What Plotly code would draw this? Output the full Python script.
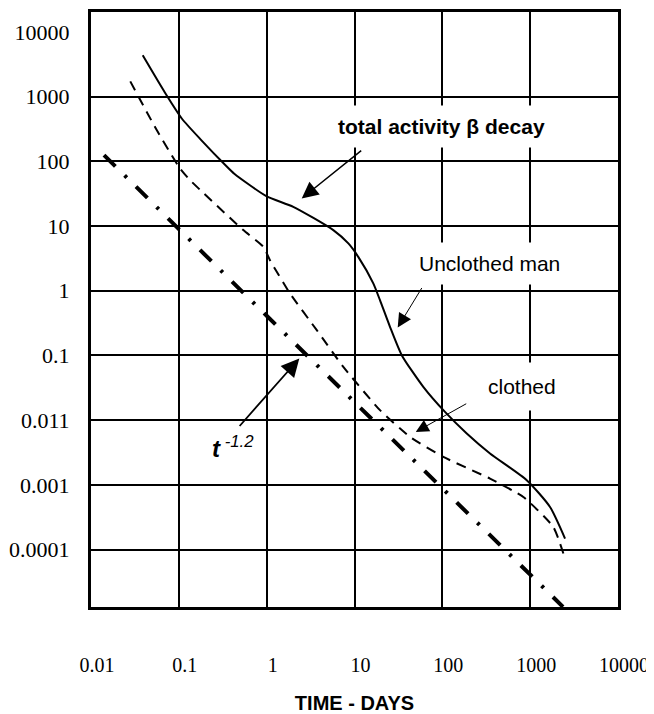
import plotly.graph_objects as go

# ---- data (log-log) ----
total_t = [0.0388, 0.0696, 0.1086, 0.1788, 0.3355, 0.428, 0.991, 2.01, 5.74, 8.51, 11.04,
           16.37, 19.5, 25.35, 34.5, 60.7, 107.2, 189.7, 349, 914, 1683, 2495]
total_v = [4345, 1148, 455, 215, 88.5, 64.3, 29.0, 19.8, 8.65, 5.38, 3.34,
           1.30, 0.716, 0.277, 0.101, 0.0327, 0.0134, 0.00621, 0.00305, 0.00118, 0.000455, 0.000148]

clothed_t = [0.028, 0.056, 0.103, 0.134, 0.542, 0.916, 1.09, 1.844, 3.72, 7.46, 19.5,
             42.9, 102.6, 349, 836, 1837, 2495]
clothed_v = [1722, 304, 77.8, 51.3, 8.65, 4.78, 2.97, 0.908, 0.246, 0.0665, 0.01426,
             0.00551, 0.0027, 0.00125, 0.00065, 0.000223, 0.0000724]

power_t = [0.01406, 1.0, 2366]
power_v = [125, 0.41, 0.000013]

x_tickvals = [0.01, 0.1, 1, 10, 100, 1000, 10000]
x_ticktext = ["0.01", "0.1", "1", "10", "100", "1000", "10000"]
y_tickvals = [10000, 1000, 100, 10, 1, 0.1, 0.01, 0.001, 0.0001]
y_ticktext = ["10000", "1000", "100", "10", "1", "0.1", "0.011", "0.001", "0.0001"]
grid_yvals = [1000, 100, 10, 1, 0.1, 0.01, 0.001, 0.0001]

Y_RANGE = [-4.888, 4.308]
serif = "Liberation Serif"
sans = "Liberation Sans"

fig = go.Figure()
fig.add_trace(go.Scatter(x=total_t, y=total_v, mode="lines",
                         line=dict(color="black", width=2, shape="spline", smoothing=0.6),
                         name="total activity"))
fig.add_trace(go.Scatter(x=clothed_t, y=clothed_v, mode="lines",
                         line=dict(color="black", width=2, dash="10px,7px", shape="spline", smoothing=0.5),
                         name="clothed"))
fig.add_trace(go.Scatter(x=power_t, y=power_v, mode="lines", yaxis="y2",
                         line=dict(color="black", width=4, dash="16px,13px,3px,13px"),
                         name="t^-1.2"))

# the page body has an 8px margin, so the figure is sized/offset to compensate
fig.update_layout(
    width=646, height=706, autosize=False,
    margin=dict(l=83, r=36, t=4, b=107, autoexpand=False),
    paper_bgcolor="white", plot_bgcolor="white",
    showlegend=False,
    xaxis=dict(type="log", range=[-2, 4], tickmode="array", tickvals=x_tickvals, ticktext=x_ticktext,
               automargin=False,
               showgrid=True, gridcolor="black", gridwidth=2, zeroline=False,
               showline=True, linecolor="black", linewidth=3, mirror=True,
               ticks="", ticklabelstandoff=38, ticklabelshift=6,
               tickfont=dict(family=serif, size=20, color="black"),
               title=dict(text="<b>TIME - DAYS</b>", font=dict(family=sans, size=20, color="black"),
                          standoff=25)),
    yaxis=dict(type="log", range=Y_RANGE, tickmode="array", tickvals=y_tickvals, ticktext=y_ticktext,
               automargin=False,
               showgrid=False, zeroline=False,
               showline=True, linecolor="black", linewidth=3, mirror=True,
               ticks="", ticklabelstandoff=14,
               tickfont=dict(family=serif, size=22, color="black")),
    yaxis2=dict(type="log", range=Y_RANGE, overlaying="y", side="left", automargin=False,
                tickmode="array", tickvals=grid_yvals, showticklabels=False,
                showgrid=True, gridcolor="black", gridwidth=2, zeroline=False,
                showline=False, ticks=""),
)

# text labels with white boxes
fig.add_annotation(x=1.985, y=2.537, xref="x", yref="y", text="<b>total activity β decay</b>",
                   showarrow=False, bgcolor="white", borderpad=9,
                   font=dict(family=sans, size=21, color="black"))
fig.add_annotation(x=2.5316, y=0.427, xref="x", yref="y", text="Unclothed man",
                   showarrow=False, bgcolor="white", borderpad=9,
                   font=dict(family=sans, size=21, color="black"))
fig.add_annotation(x=2.904, y=-1.475, xref="x", yref="y", text="clothed",
                   showarrow=False, bgcolor="white", borderpad=12,
                   font=dict(family=sans, size=21, color="black"))
fig.add_annotation(x=-0.3855, y=-2.411, xref="x", yref="y",
                   text="<b><i>t</i></b><sup><i> -1.2</i></sup>",
                   showarrow=False, font=dict(family=sans, size=24, color="black"))

# arrows
fig.add_annotation(x=0.399, y=1.427, xref="x", yref="y", text="", showarrow=True,
                   ax=61, ay=-49, arrowhead=2, arrowsize=2.2, arrowwidth=1.5, arrowcolor="black")
fig.add_annotation(x=1.492, y=-0.568, xref="x", yref="y", text="", showarrow=True,
                   ax=25, ay=-41, arrowhead=2, arrowsize=2.8, arrowwidth=1, arrowcolor="black")
fig.add_annotation(x=1.697, y=-2.182, xref="x", yref="y", text="", showarrow=True,
                   ax=52, ay=-29, arrowhead=2, arrowsize=2.6, arrowwidth=1, arrowcolor="black")
fig.add_annotation(x=0.3716, y=-1.047, xref="x", yref="y", text="", showarrow=True,
                   ax=-61, ay=69, arrowhead=2, arrowsize=2.0, arrowwidth=1.8, arrowcolor="black")

fig.write_html("out.html")
